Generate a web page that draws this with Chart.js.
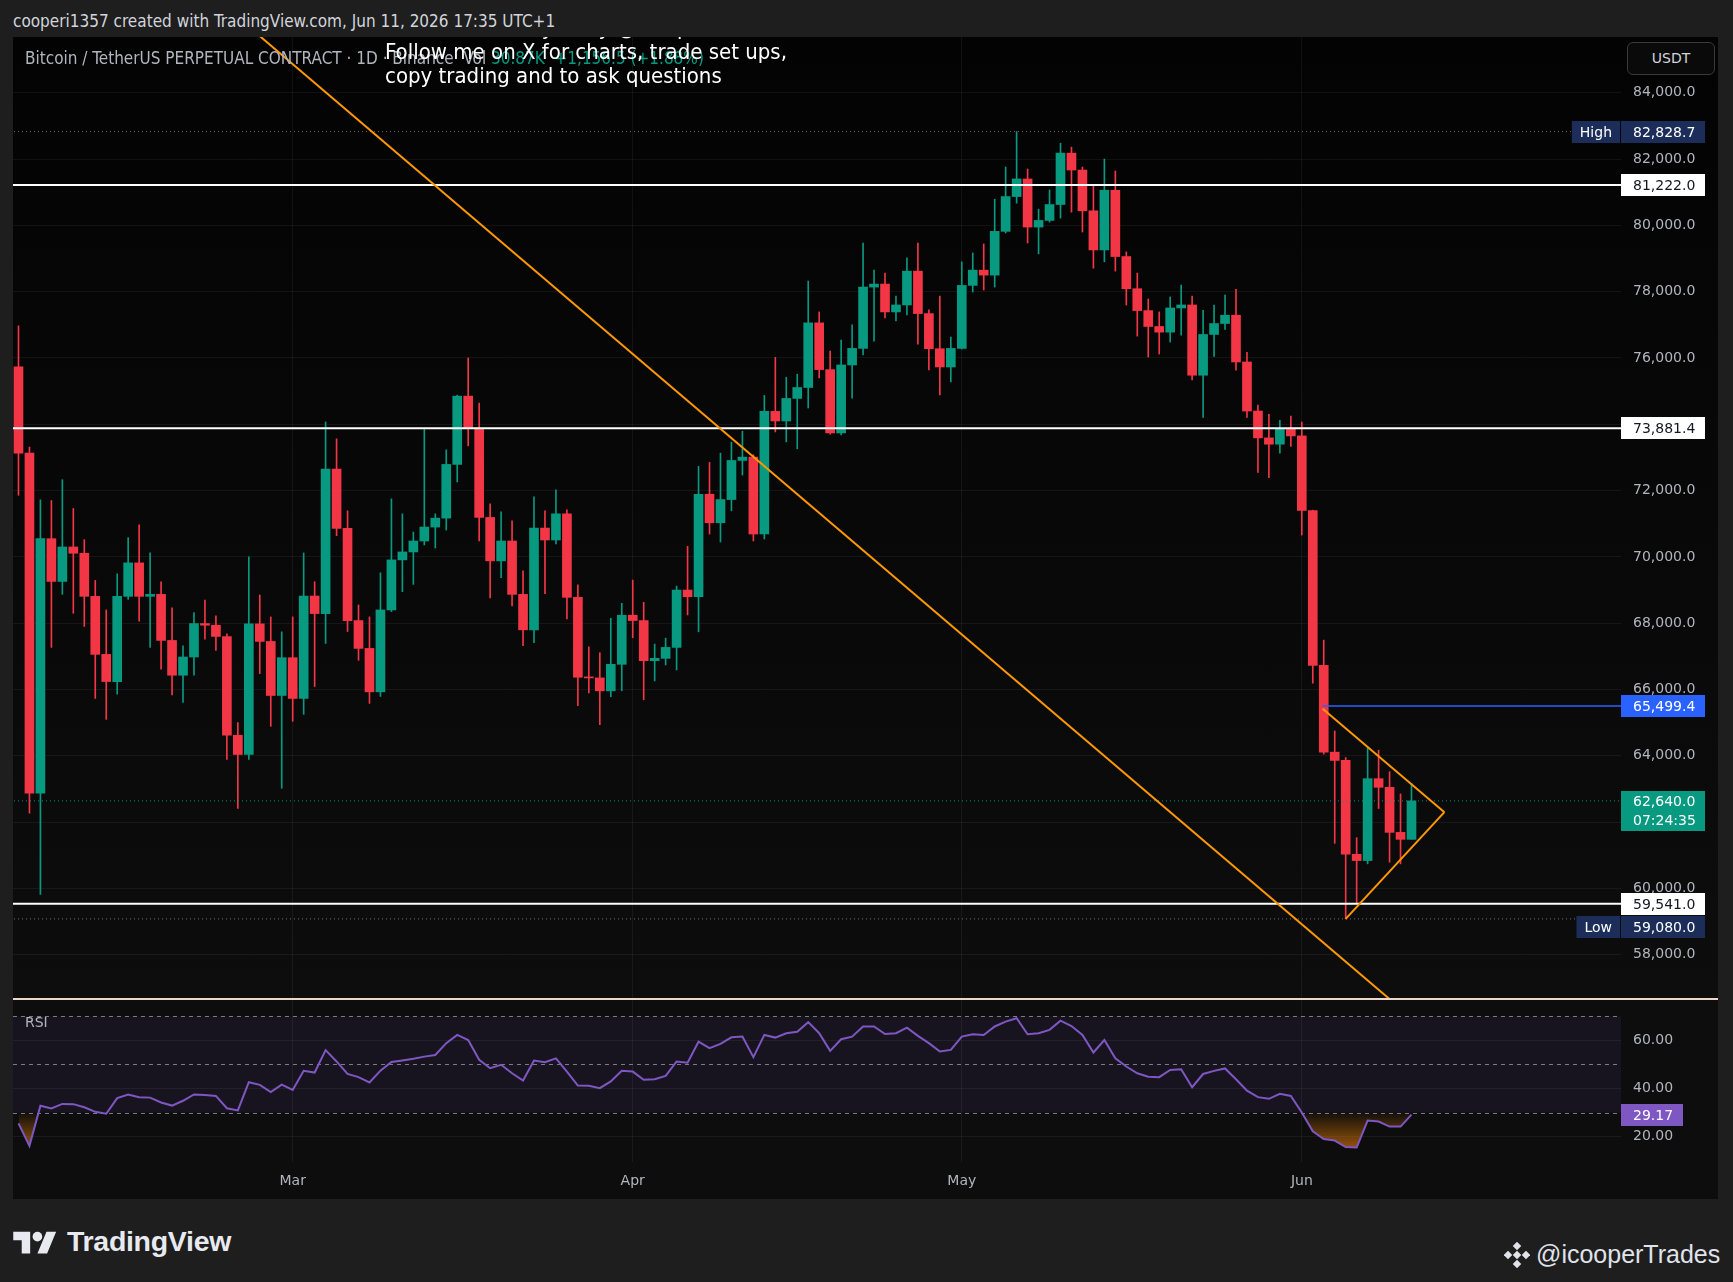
<!DOCTYPE html>
<html>
<head>
<meta charset="utf-8">
<title>BTCUSDT.P 1D</title>
<script src="https://cdn.jsdelivr.net/npm/chart.js@4.4.1/dist/chart.umd.min.js"></script>
<style>
  body { margin: 0; width: 1733px; height: 1282px; background: #1e1e1e; overflow: hidden; position: relative; font-family: 'DejaVu Sans', sans-serif; }
  .head { position: absolute; left: 13px; top: 11px; font: 17px 'Liberation Sans Narrow', 'DejaVu Sans Condensed', sans-serif; color: #d1d4dc; white-space: nowrap; }
  #frame { position: absolute; left: 13px; top: 37px; width: 1705px; height: 1162px; overflow: hidden; background: #0c0c0c; }
  #pricePane { position: absolute; left: 0; top: 0; width: 1705px; height: 962px; background: linear-gradient(to bottom, #030303, #0d0d0d); }
  #rsiPane { position: absolute; left: 0; top: 962px; width: 1705px; height: 200px; background: #0d0d0d; }
  canvas { position: absolute; left: 0; top: 0; }
  .sep { position: absolute; left: 0; top: 961px; width: 1705px; height: 2px; background: #ecd6cc; }
  .legend { position: absolute; left: 12px; top: 11px; font: 17px 'Liberation Sans Narrow', 'DejaVu Sans Condensed', sans-serif; color: #b2b5be; white-space: nowrap; }
  .legend .vol { color: #089981; }
  .note { position: absolute; left: 372px; top: -21px; font: 22px/24px 'Liberation Sans Narrow', 'DejaVu Sans Condensed', sans-serif; color: #ffffff; white-space: nowrap; }
  .unit { position: absolute; left: 1614px; top: 5px; width: 86px; height: 31px; border: 1px solid #3a3a3a; border-radius: 6px; color: #d1d4dc; font-size: 14px; line-height: 31px; text-align: center; background: #0a0a0a; }
  .rsiTitle { position: absolute; left: 12px; top: 977px; font-size: 14px; color: #b2b5be; }
  .brand { position: absolute; left: 13px; top: 1224px; height: 34px; display: flex; align-items: center; gap: 10px; color: #e8eaf0; font: bold 28.5px 'Liberation Sans', sans-serif; letter-spacing: -0.3px; }
  .author { position: absolute; left: 1504px; top: 1240px; display: flex; align-items: center; gap: 6px; color: #e0e3eb; font: 25px 'Liberation Sans', sans-serif; }
</style>
</head>
<body>
<div class="head">cooperi1357 created with TradingView.com, Jun 11, 2026 17:35 UTC+1</div>

<div id="frame">
  <div id="pricePane"><canvas id="priceChart" width="1705" height="962"></canvas></div>
  <div id="rsiPane"><canvas id="rsiChart" width="1705" height="200"></canvas></div>
  <div class="sep"></div>
  <div class="legend">Bitcoin / TetherUS PERPETUAL CONTRACT · 1D · Binance&nbsp; Vol <span class="vol">30.87K&nbsp; +1,156.5 (+1.88%)</span></div>
  <div class="note">Charts and analysis by @icooperTrades<br>Follow me on X for charts, trade set ups,<br>copy trading and to ask questions</div>
  <div class="unit">USDT</div>
  <div class="rsiTitle">RSI</div>
</div>

<div class="brand">
  <svg width="44" height="29" viewBox="0 0 36 24"><path fill="#e8eaf0" d="M14 22H7V11H0V4h14v18zM28 22h-8l7.5-18h8L28 22z"/><circle fill="#e8eaf0" cx="20" cy="8" r="4"/></svg>
  <span>TradingView</span>
</div>
<div class="author">
  <svg width="26" height="26" viewBox="0 0 26 26"><g fill="#e0e3eb"><rect x="10" y="1" width="6" height="6" transform="rotate(45 13 4)"/><rect x="10" y="19" width="6" height="6" transform="rotate(45 13 22)"/><rect x="1" y="10" width="6" height="6" transform="rotate(45 4 13)"/><rect x="19" y="10" width="6" height="6" transform="rotate(45 22 13)"/><rect x="10" y="10" width="6" height="6" transform="rotate(45 13 13)"/></g></svg>
  <span>@icooperTrades</span>
</div>

<script>
// daily candles, Feb 4 2026 (index 0) .. Jun 11 2026 (index 127)
const opens = [75730,73130,62870,70550,69260,70300,70110,68810,67060,66240,
  68810,69820,68810,68870,67480,66430,66980,67990,67940,67600,
  64620,64040,67980,67450,65820,66960,65730,68820,68290,72650,
  70860,68080,67240,65930,68400,69910,70150,70480,70900,71170,
  72790,74850,73870,71190,69880,70480,68870,67800,70870,70510,
  71300,68780,66370,66350,65960,66760,68240,68080,66870,66940,
  67270,69000,68800,71890,71030,71730,72910,73010,70690,74390,
  74100,74780,75110,77060,75650,73740,75790,76290,78140,78230,
  77390,77600,78620,77340,76280,75730,76290,78190,78650,78500,
  79820,80870,81400,79950,80150,80630,82180,81670,80440,79260,
  81060,79060,78090,77430,76950,76780,77510,77600,75480,76710,
  77040,77290,75880,74400,73590,73400,73860,73650,71400,66730,
  64110,63860,61030,60840,63310,63050,61690,61480];
const highs = [76970,73310,71720,71700,72330,71460,70520,69290,68400,69490,
  70580,70970,70120,69250,68460,67320,68320,68700,68220,67680,
  65000,70000,68850,68190,67740,68190,70120,69250,74070,73560,
  71390,68550,68190,69520,71750,71300,70750,73890,71300,73230,
  74880,76000,74640,71600,71360,71090,69580,71810,71390,72020,
  71420,69160,67290,67110,68150,68600,69300,68630,67370,67550,
  69120,70320,72730,72850,73130,73460,73790,73080,74870,76020,
  75420,75510,78320,77390,76210,76540,77000,79470,78650,78560,
  77870,79020,79470,77450,77870,76630,78900,79170,79440,80790,
  81760,82830,81700,80490,81070,82480,82360,81760,81220,82000,
  81640,79200,78560,77780,77390,77840,78200,77870,77440,77600,
  77900,78070,76170,74580,74300,74120,74250,74070,71410,67490,
  64750,63950,61530,64260,64170,63520,62850,63170];
const lows = [71860,62270,59820,67270,68870,68300,67900,65730,65100,65860,
  68720,68060,67270,66610,65840,65610,66430,67520,67180,63890,
  62410,63890,66480,64890,63020,65040,65250,66090,67390,70640,
  67750,66880,65580,65790,68350,68950,69170,70360,70270,70810,
  72260,73350,70480,68760,69370,68520,67320,67410,68890,70390,
  68130,65510,65900,64940,65780,65960,67560,65690,66260,66740,
  66590,68250,67740,70690,70450,71390,72470,70480,70540,73770,
  73470,73260,74490,75400,73700,73680,74790,76090,76510,77210,
  77120,77300,76420,75640,74890,75280,76270,77990,78050,78140,
  79770,80670,79470,79140,80100,80220,80400,79800,78710,78900,
  78620,77600,76660,76030,76120,76480,76690,75340,74210,76050,
  76860,75630,74210,72550,72390,73130,73330,70660,66190,64050,
  61360,59080,59540,60740,62410,60790,60740,61480];
const closes = [73130,62870,70550,69260,70300,70110,68810,67060,66240,68810,
  69820,68810,68870,67480,66430,66980,67990,67940,67600,64620,
  64040,67980,67450,65820,66960,65730,68820,68290,72650,70860,
  68080,67240,65930,68400,69910,70150,70480,70900,71170,72790,
  74850,73870,71190,69880,70480,68870,67800,70870,70510,71300,
  68780,66370,66350,65960,66760,68240,68080,66870,66940,67270,
  69000,68800,71890,71030,71730,72910,73010,70690,74390,74100,
  74780,75110,77060,75650,73740,75790,76290,78140,78230,77390,
  77600,78620,77340,76280,75730,76290,78190,78650,78500,79820,
  80870,81400,79950,80150,80630,82180,81670,80440,79260,81060,
  79060,78090,77430,76950,76780,77510,77600,75480,76710,77040,
  77290,75880,74400,73590,73400,73860,73650,71400,66730,64110,
  63860,61030,60840,63310,63050,61690,61480,62640];
const rsiValues = [25.5,16.2,32.8,31.7,33.6,33.5,32.2,30.3,29.5,36.0,
  37.5,36.4,36.2,34.2,32.9,34.9,37.5,37.3,36.9,31.8,
  30.9,42.6,41.5,38.5,41.6,39.4,47.3,46.6,55.9,51.2,
  46.0,44.7,42.5,47.4,51.0,51.6,52.3,53.2,53.9,58.8,
  62.2,60.1,51.9,48.4,49.8,46.3,43.3,51.6,50.9,52.5,
  47.0,41.2,41.1,40.1,42.9,47.3,47.0,43.6,43.8,45.2,
  51.2,50.7,59.4,56.7,58.5,61.2,61.5,53.0,62.2,61.1,
  62.9,63.5,67.5,62.9,55.6,60.4,61.5,65.7,65.7,62.6,
  62.9,65.2,61.8,58.8,55.3,56.0,61.5,62.5,62.2,65.7,
  67.7,69.1,62.5,62.9,64.3,68.1,65.9,62.2,54.9,60.1,
  52.5,49.1,46.3,44.9,44.7,47.7,48.0,40.5,46.0,47.3,
  48.3,43.8,39.1,36.4,35.7,37.8,36.9,30.0,22.2,19.0,
  18.4,15.7,15.5,26.7,26.3,24.2,24.2,29.17];

// axis ticks
const monthLabels = ['Mar', 'Apr', 'May', 'Jun'];
const monthDays = [25, 56, 86, 117];
const priceTicks = [58000, 60000, 62000, 64000, 66000, 68000, 70000, 72000, 74000, 76000, 78000, 80000, 82000, 84000];
const rsiTicks = [20, 40, 60];

// drawings
const keyLevels = [81222.0, 73881.4, 59541.0];
const breakLevel = 65499.4;
const breakStart = 118.9;
const highValue = 82828.7;
const lowValue = 59080.0;
const lastPrice = 62640.0;
const countdown = '07:24:35';
const trendLine = [[22, 85710], [126, 56380]];
const triangleUpper = [[118.9, 65420], [130, 62300]];
const triangleLower = [[121, 59080], [130, 62300]];

const UP = '#089981', DOWN = '#f23645';
const FONT = '14px "DejaVu Sans", sans-serif';
const GRID = 'rgba(255,255,255,0.055)';
const X_MIN = -0.5, X_MAX = 146.1;

const fmt = v => v.toLocaleString('en-US', {minimumFractionDigits: 1, maximumFractionDigits: 1});
const pts = arr => arr.map(p => ({x: p[0], y: p[1]}));
const flat = (v, x0) => [{x: x0, y: v}, {x: X_MAX + 1, y: v}];

const candleColors = opens.map((o, i) => closes[i] >= o ? UP : DOWN);
const bodies = opens.map((o, i) => ({x: i, y: [Math.min(o, closes[i]), Math.max(o, closes[i])]}));
const wicks = opens.map((o, i) => ({x: i, y: [lows[i], highs[i]]}));

function lineSet(data, color, width, dash) {
  return {type: 'line', data: data, borderColor: color, borderWidth: width, borderDash: dash || [],
    pointRadius: 0, fill: false, tension: 0, order: 0};
}

const xAxis = (showLabels) => ({
  type: 'linear', min: X_MIN, max: X_MAX, offset: false,
  afterBuildTicks: s => { s.ticks = monthDays.map(v => ({value: v})); },
  grid: {color: GRID, drawTicks: false, offset: false},
  border: {display: false},
  ticks: {display: showLabels, color: '#b2b5be', font: {size: 14, family: 'DejaVu Sans'}, padding: 11,
    maxRotation: 0, autoSkip: false,
    callback: v => monthLabels[monthDays.indexOf(v)]},
  afterFit: s => { s.height = showLabels ? 37 : 0; s.paddingLeft = 0; s.paddingRight = 0; }
});

// price axis tags
const priceTags = {
  id: 'priceTags',
  afterDraw(chart) {
    const {ctx, chartArea} = chart;
    const y = chart.scales.y;
    const left = chartArea.right;
    ctx.save();
    ctx.font = FONT;
    ctx.textBaseline = 'middle';
    ctx.textAlign = 'left';
    const tag = (center, bg, fg, text) => {
      ctx.fillStyle = bg;
      ctx.fillRect(left, center - 11, 84, 22);
      ctx.fillStyle = fg;
      ctx.fillText(text, left + 12, center + 1);
    };
    const side = (center, text) => {
      const w = ctx.measureText(text).width + 16;
      ctx.fillStyle = '#1c2d5a';
      ctx.fillRect(left - w - 1, center - 11, w, 22);
      ctx.fillStyle = '#ffffff';
      ctx.textAlign = 'center';
      ctx.fillText(text, left - 1 - w / 2, center + 1);
      ctx.textAlign = 'left';
    };
    const levelPx = keyLevels.map(v => Math.round(y.getPixelForValue(v)));
    keyLevels.forEach((v, i) => tag(levelPx[i], '#ffffff', '#131722', fmt(v)));
    tag(Math.round(y.getPixelForValue(breakLevel)), '#2962ff', '#ffffff', fmt(breakLevel));

    const hiPx = Math.round(y.getPixelForValue(highValue));
    tag(hiPx, '#1c2d5a', '#ffffff', fmt(highValue));
    side(hiPx, 'High');
    const loPx = Math.max(Math.round(y.getPixelForValue(lowValue)), levelPx[2] + 23);
    tag(loPx, '#1c2d5a', '#ffffff', fmt(lowValue));
    side(loPx, 'Low');

    const lp = Math.round(y.getPixelForValue(lastPrice));
    ctx.fillStyle = UP;
    ctx.fillRect(left, lp - 10, 84, 40);
    ctx.fillStyle = '#ffffff';
    ctx.fillText(fmt(lastPrice), left + 12, lp + 1);
    ctx.fillText(countdown, left + 12, lp + 20);
    ctx.restore();
  }
};

new Chart(document.getElementById('priceChart'), {
  type: 'bar',
  data: {
    datasets: [
      lineSet(pts(trendLine), '#ff9800', 2),
      lineSet(pts(triangleUpper), '#ff9800', 2),
      lineSet(pts(triangleLower), '#ff9800', 2),
      lineSet(flat(keyLevels[0], X_MIN - 1), '#ffffff', 2),
      lineSet(flat(keyLevels[1], X_MIN - 1), '#ffffff', 2),
      lineSet(flat(keyLevels[2], X_MIN - 1), '#ffffff', 2),
      lineSet(flat(breakLevel, breakStart), '#2962ff', 1.5),
      lineSet(flat(highValue, X_MIN - 1), 'rgba(178,181,190,0.6)', 1, [1, 3]),
      lineSet(flat(lowValue, X_MIN - 1), 'rgba(178,181,190,0.6)', 1, [1, 3]),
      lineSet(flat(lastPrice, X_MIN - 1), UP, 1, [1, 3]),
      {data: bodies, backgroundColor: candleColors, barThickness: 9, minBarLength: 1, grouped: false, order: 1},
      {data: wicks, backgroundColor: candleColors, barThickness: 1, grouped: false, order: 2}
    ]
  },
  options: {
    responsive: false,
    animation: false,
    events: [],
    layout: {padding: 0},
    plugins: {legend: {display: false}, tooltip: {enabled: false}},
    scales: {
      x: xAxis(false),
      y: {
        type: 'linear', position: 'right', min: 56664, max: 85683, beginAtZero: false,
        afterBuildTicks: s => { s.ticks = priceTicks.map(v => ({value: v})); },
        grid: {color: GRID, drawTicks: false},
        border: {display: false},
        ticks: {color: '#b2b5be', font: {size: 14, family: 'DejaVu Sans'}, padding: 12, callback: v => fmt(v)},
        afterFit: s => { s.width = 97; s.paddingTop = 0; s.paddingBottom = 0; }
      }
    }
  },
  plugins: [priceTags]
});

// rsi band, dashed levels and value tag
const rsiDecor = {
  id: 'rsiDecor',
  beforeDatasetsDraw(chart) {
    const {ctx, chartArea} = chart;
    const y = chart.scales.y;
    ctx.save();
    ctx.fillStyle = 'rgba(126,87,194,0.1)';
    const top = y.getPixelForValue(70), bot = y.getPixelForValue(30);
    ctx.fillRect(chartArea.left, top, chartArea.right - chartArea.left, bot - top);
    ctx.strokeStyle = 'rgba(140,143,154,0.85)';
    ctx.lineWidth = 1;
    ctx.setLineDash([4, 4]);
    [70, 50, 30].forEach(v => {
      const py = Math.round(y.getPixelForValue(v)) + 0.5;
      ctx.beginPath();
      ctx.moveTo(chartArea.left, py);
      ctx.lineTo(chartArea.right, py);
      ctx.stroke();
    });
    ctx.restore();
  },
  afterDraw(chart) {
    const {ctx, chartArea} = chart;
    const y = chart.scales.y;
    const last = rsiValues[rsiValues.length - 1];
    const py = Math.round(y.getPixelForValue(last));
    ctx.save();
    ctx.fillStyle = '#7e57c2';
    ctx.fillRect(chartArea.right, py - 11, 62, 22);
    ctx.fillStyle = '#ffffff';
    ctx.font = FONT;
    ctx.textBaseline = 'middle';
    ctx.fillText(last.toFixed(2), chartArea.right + 12, py + 1);
    ctx.restore();
  }
};

// oversold fill: fades in from the 30 line downwards
function oversoldFill(context) {
  const chart = context.chart;
  const y = chart.scales && chart.scales.y;
  if (!chart.chartArea || !y) return 'rgba(255,140,0,0.4)';
  const g = chart.ctx.createLinearGradient(0, y.getPixelForValue(30), 0, y.getPixelForValue(15));
  g.addColorStop(0, 'rgba(255,140,0,0.02)');
  g.addColorStop(1, 'rgba(235,125,10,0.62)');
  return g;
}

new Chart(document.getElementById('rsiChart'), {
  type: 'line',
  data: {
    datasets: [{
      data: rsiValues.map((v, i) => ({x: i, y: v})),
      borderColor: '#7e57c2', borderWidth: 2, pointRadius: 0, tension: 0,
      backgroundColor: oversoldFill,
      fill: {target: {value: 30}, above: 'rgba(0,0,0,0)'}
    }]
  },
  options: {
    responsive: false,
    animation: false,
    events: [],
    layout: {padding: 0},
    plugins: {legend: {display: false}, tooltip: {enabled: false}},
    scales: {
      x: xAxis(true),
      y: {
        type: 'linear', position: 'right', min: 9.5, max: 77.1,
        afterBuildTicks: s => { s.ticks = rsiTicks.map(v => ({value: v})); },
        grid: {color: GRID, drawTicks: false},
        border: {display: false},
        ticks: {color: '#b2b5be', font: {size: 14, family: 'DejaVu Sans'}, padding: 12, callback: v => v.toFixed(2)},
        afterFit: s => { s.width = 97; s.paddingTop = 0; s.paddingBottom = 0; }
      }
    }
  },
  plugins: [rsiDecor]
});
</script>
</body>
</html>
